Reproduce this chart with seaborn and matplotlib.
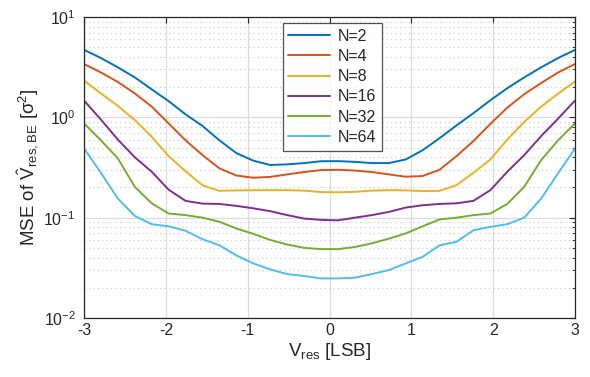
import numpy as np
import pandas as pd
import matplotlib
matplotlib.use("Agg")
import matplotlib.pyplot as plt
import seaborn as sns

# residue voltage grid (30 points, -3..3 LSB)
v_res = np.linspace(-3, 3, 30)

# MSE values, one list per N
mse_n2 = [4.7, 3.9, 3.15, 2.5, 1.9, 1.45, 1.07, 0.82, 0.59, 0.44,
          0.37, 0.335, 0.34, 0.35, 0.365, 0.366, 0.36, 0.35, 0.35, 0.38,
          0.47, 0.62, 0.83, 1.1, 1.48, 1.95, 2.5, 3.15, 3.9, 4.7]
mse_n4 = [3.4, 2.8, 2.25, 1.73, 1.28, 0.87, 0.59, 0.42, 0.31, 0.263,
          0.25, 0.255, 0.27, 0.285, 0.298, 0.30, 0.295, 0.285, 0.27, 0.256,
          0.26, 0.30, 0.41, 0.58, 0.86, 1.25, 1.7, 2.2, 2.8, 3.4]
mse_n8 = [2.32, 1.73, 1.3, 0.94, 0.64, 0.41, 0.29, 0.21, 0.185, 0.187,
          0.188, 0.188, 0.188, 0.186, 0.18, 0.179, 0.181, 0.186, 0.188, 0.187,
          0.184, 0.185, 0.211, 0.28, 0.38, 0.6, 0.9, 1.28, 1.72, 2.28]
mse_n16 = [1.47, 0.95, 0.6, 0.4, 0.287, 0.19, 0.147, 0.138, 0.137, 0.131,
           0.124, 0.116, 0.106, 0.098, 0.095, 0.094, 0.10, 0.106, 0.114, 0.126,
           0.133, 0.137, 0.139, 0.147, 0.188, 0.287, 0.42, 0.65, 0.97, 1.47]
mse_n32 = [0.87, 0.59, 0.39, 0.203, 0.139, 0.11, 0.106, 0.10, 0.091, 0.078,
           0.069, 0.06, 0.054, 0.05, 0.0486, 0.0486, 0.051, 0.0555, 0.0617, 0.0697,
           0.082, 0.096, 0.10, 0.106, 0.11, 0.137, 0.203, 0.375, 0.59, 0.87]
mse_n64 = [0.49, 0.28, 0.155, 0.104, 0.086, 0.082, 0.074, 0.061, 0.053, 0.042,
           0.035, 0.0305, 0.0274, 0.0262, 0.0248, 0.0248, 0.0252, 0.0274, 0.030, 0.035,
           0.0407, 0.053, 0.0575, 0.075, 0.081, 0.086, 0.10, 0.155, 0.277, 0.49]

labels = ["N=2", "N=4", "N=8", "N=16", "N=32", "N=64"]
series = [mse_n2, mse_n4, mse_n8, mse_n16, mse_n32, mse_n64]
colors = ["#0072BD", "#D95319", "#EDB120", "#7E2F8E", "#77AC30", "#4DBEEE"]

df = pd.concat([pd.DataFrame({"V": v_res, "MSE": s, "N": lab})
                for lab, s in zip(labels, series)])

sns.set_style("white")
plt.rcParams["font.family"] = ["Liberation Sans", "DejaVu Sans"]
plt.rcParams["mathtext.default"] = "regular"

fig = plt.figure(figsize=(5.9, 3.77), dpi=100)
ax = fig.add_axes([84 / 590, 1 - 318 / 377, 491 / 590, 301 / 377])

sns.lineplot(data=df, x="V", y="MSE", hue="N", palette=colors,
             linewidth=1.4, ax=ax)

ax.set_yscale("log")
ax.set_xlim(-3, 3)
ax.set_ylim(1e-2, 1e1)
ax.set_xticks([-3, -2, -1, 0, 1, 2, 3])
ax.set_xticklabels(["-3", "-2", "-1", "0", "1", "2", "3"])

ax.grid(True, which="major", color="#dcdcdc", linewidth=0.9)
ax.grid(True, which="minor", axis="y", color="#c8c8c8", linestyle=(0, (1, 3)),
        linewidth=0.8)
ax.set_axisbelow(True)

ax.tick_params(which="both", direction="in", top=True, right=True,
               colors="#262626", labelsize=11.5)
ax.tick_params(which="major", length=4)
ax.tick_params(which="minor", length=2.5)
ax.tick_params(axis="y", which="major", pad=6)
for sp in ax.spines.values():
    sp.set_color("#262626")
    sp.set_linewidth(0.9)

ax.set_xlabel("V$_{res}$ [LSB]", fontsize=13.5, color="#262626", labelpad=2)
ax.set_ylabel(r"MSE of $\hat{V}_{res,BE}$ [$\sigma^2$]", fontsize=13.5,
              color="#262626", labelpad=2)

leg = ax.legend(loc="upper left", bbox_to_anchor=(0.405, 0.98), frameon=True,
                fancybox=False, edgecolor="#262626", fontsize=11.5,
                handlelength=2.6, borderpad=0.35, labelspacing=0.33,
                handletextpad=0.5, borderaxespad=0)
leg.get_frame().set_linewidth(0.9)

fig.savefig("out.png", dpi=100)
